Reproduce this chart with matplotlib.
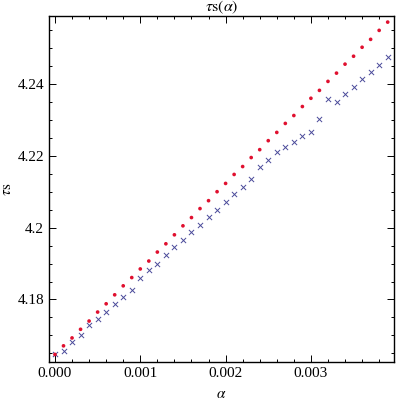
import matplotlib
matplotlib.use("Agg")
import matplotlib.pyplot as plt
from matplotlib.ticker import MultipleLocator, FixedLocator
import numpy as np

plt.rcParams['mathtext.fontset'] = 'stix'
plt.rcParams['font.family'] = ['Liberation Serif', 'DejaVu Serif']

alpha = [i * 0.0001 for i in range(40)]

tau_red = [4.1647, 4.1671, 4.1693, 4.1717, 4.1740, 4.1765, 4.1788, 4.1813, 4.1838, 4.1861,
           4.1885, 4.1907, 4.1932, 4.1955, 4.1980, 4.2005, 4.2028, 4.2053, 4.2075, 4.2100,
           4.2123, 4.2148, 4.2170, 4.2195, 4.2217, 4.2242, 4.2265, 4.2290, 4.2312, 4.2337,
           4.2360, 4.2382, 4.2407, 4.2430, 4.2455, 4.2477, 4.2502, 4.2524, 4.2549, 4.2572]

tau_blue = [4.1647, 4.1656, 4.1681, 4.1702, 4.1728, 4.1747, 4.1764, 4.1787, 4.1808, 4.1826,
            4.1859, 4.1881, 4.1900, 4.1923, 4.1945, 4.1965, 4.1987, 4.2006, 4.2029, 4.2048,
            4.2071, 4.2093, 4.2112, 4.2135, 4.2168, 4.2188, 4.2210, 4.2224, 4.2238, 4.2255,
            4.2267, 4.2303, 4.2358, 4.2349, 4.2372, 4.2391, 4.2414, 4.2433, 4.2454, 4.2475]

xticks = [0.0, 0.001, 0.002, 0.003]
xtick_labels = ["0.000", "0.001", "0.002", "0.003"]
yticks = [4.18, 4.20, 4.22, 4.24]
ytick_labels = ["4.18", "4.2", "4.22", "4.24"]

fig = plt.figure(figsize=(4, 4), dpi=100)
ax = fig.add_axes([0.1225, 0.095, 0.8625, 0.865])

ax.scatter(alpha, tau_blue, marker='x', s=14, color='#4a4a9a', linewidths=0.7, zorder=2)
ax.scatter(alpha, tau_red, marker='o', s=7, color='#e0102f', edgecolors='none', zorder=3)

ax.set_xlim(-0.00007, 0.003974)
ax.set_ylim(4.1626, 4.2589)

ax.xaxis.set_major_locator(FixedLocator(xticks))
ax.set_xticklabels(xtick_labels)
ax.xaxis.set_minor_locator(MultipleLocator(0.0002))
ax.yaxis.set_major_locator(FixedLocator(yticks))
ax.set_yticklabels(ytick_labels)
ax.yaxis.set_minor_locator(MultipleLocator(0.005))

ax.tick_params(which='both', direction='in', top=True, right=True, labelsize=11, width=0.7)
ax.tick_params(which='major', length=5)
ax.tick_params(which='minor', length=2.5)
for s in ax.spines.values():
    s.set_linewidth(1.0)

ax.set_title(r'$\tau\mathrm{s}(\alpha)$', fontsize=11.5, pad=0.5)
ax.set_xlabel(r'$\alpha$', fontsize=11, labelpad=6)
ax.set_ylabel(r'$\tau\mathrm{s}$', fontsize=11)
ax.yaxis.set_label_coords(-0.10, 0.5)

fig.savefig("out.png", dpi=100)
